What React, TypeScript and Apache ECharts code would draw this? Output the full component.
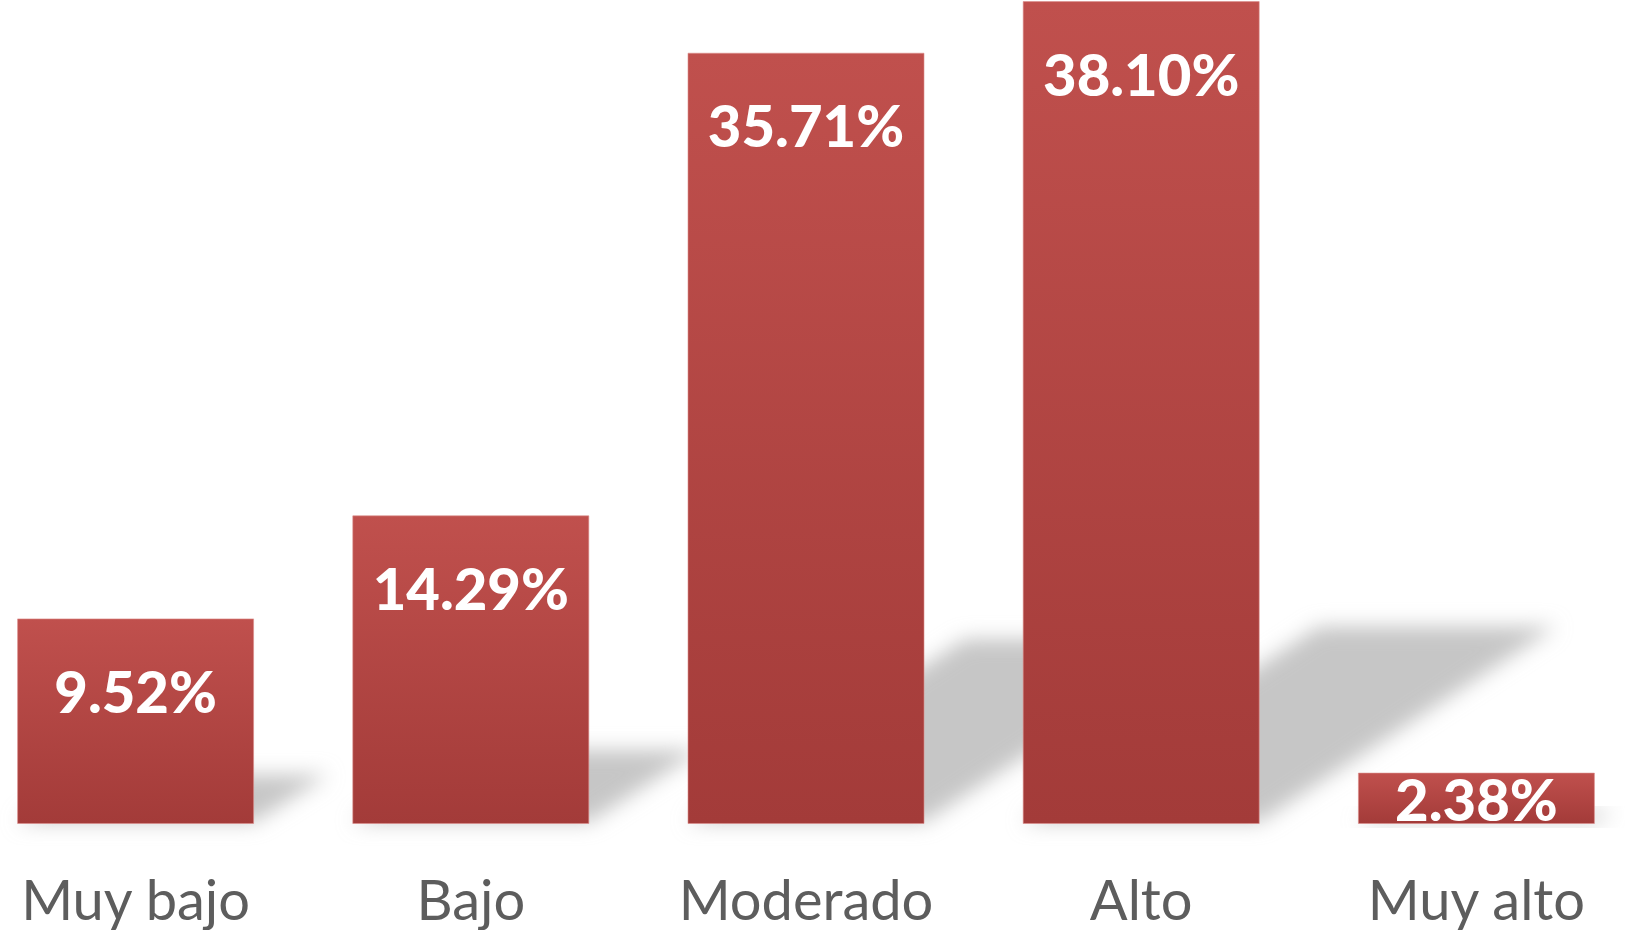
import React, { useEffect, useRef } from "react";
import * as echarts from "echarts";

const categories = ["Muy bajo", "Bajo", "Moderado", "Alto", "Muy alto"];
const values = [9.52, 14.29, 35.71, 38.1, 2.38];

const BAR_W = 237;

export default function App() {
  const ref = useRef<HTMLDivElement>(null);
  useEffect(() => {
    if (!ref.current) return;
    const chart = echarts.init(ref.current, null, { renderer: "svg" });

    const barData = values.map((v) => ({
      value: v,
      label: v < 5 ? { position: "inside" } : undefined,
    }));

    const renderShadow = (params: any, api: any) => {
      const idx = params.dataIndex;
      const v = api.value(1);
      const base = api.coord([idx, 0]);
      const top = api.coord([idx, v]);
      const h = base[1] - top[1];
      const xl = base[0] - BAR_W / 2;
      const xr = base[0] + BAR_W / 2;
      const yb = base[1];
      const dx = 0.36 * h;
      const dy = 0.24 * h;
      const pad = 40;
      const minX = xl - pad;
      const minY = yb - dy - pad;
      const w = xr + dx - xl + 2 * pad;
      const hh = dy + 2 * pad;
      const pts = [
        [xl, yb - 2],
        [xr, yb - 2],
        [xr + dx, yb - dy],
        [xl + dx, yb - dy],
      ]
        .map((p) => `${(p[0] - minX).toFixed(1)},${(p[1] - minY).toFixed(1)}`)
        .join(" ");
      const svg = `<svg xmlns='http://www.w3.org/2000/svg' width='${w.toFixed(1)}' height='${hh.toFixed(1)}'><defs><filter id='b' x='-50%' y='-50%' width='200%' height='200%'><feGaussianBlur stdDeviation='10'/></filter></defs><polygon points='${pts}' fill='#c6c6c6' filter='url(#b)'/></svg>`;
      const url = "data:image/svg+xml;charset=utf-8," + encodeURIComponent(svg);
      return {
        type: "image",
        style: { image: url, x: minX, y: minY, width: w, height: hh },
      };
    };

    chart.setOption({
      animation: false,
      backgroundColor: "#ffffff",
      grid: { left: 0, right: 0, top: 0, height: 824 },
      xAxis: {
        type: "category",
        data: categories,
        axisLine: { show: false },
        axisTick: { show: false },
        axisLabel: {
          color: "#5d5d5d",
          fontFamily: "Lato",
          fontSize: 56,
          lineHeight: 56,
          margin: 46,
        },
      },
      yAxis: {
        type: "value",
        min: 0,
        max: 38.15,
        show: false,
        splitLine: { show: false },
      },
      series: [
        {
          type: "custom",
          renderItem: renderShadow,
          data: values.map((v, i) => [i, v]),
          z: 1,
          silent: true,
        },
        {
          type: "bar",
          data: barData,
          barWidth: BAR_W,
          z: 5,
          itemStyle: {
            color: new echarts.graphic.LinearGradient(0, 0, 0, 1, [
              { offset: 0, color: "#c0504d" },
              { offset: 1, color: "#a33b39" },
            ]),
            borderColor: "rgba(220,140,138,0.6)",
            borderWidth: 1,
          },
          label: {
            show: true,
            position: "insideTop",
            distance: 43,
            color: "#ffffff",
            fontFamily: "Lato",
            fontWeight: 900,
            fontSize: 58,
            lineHeight: 58,
            formatter: (p: any) => `${Number(p.value).toFixed(2)}%`,
          },
        },
      ],
    });
    return () => chart.dispose();
  }, []);
  return (
    <div
      ref={ref}
      style={{ position: "fixed", left: -32, top: 0, width: 1676, height: 930 }}
    />
  );
}
